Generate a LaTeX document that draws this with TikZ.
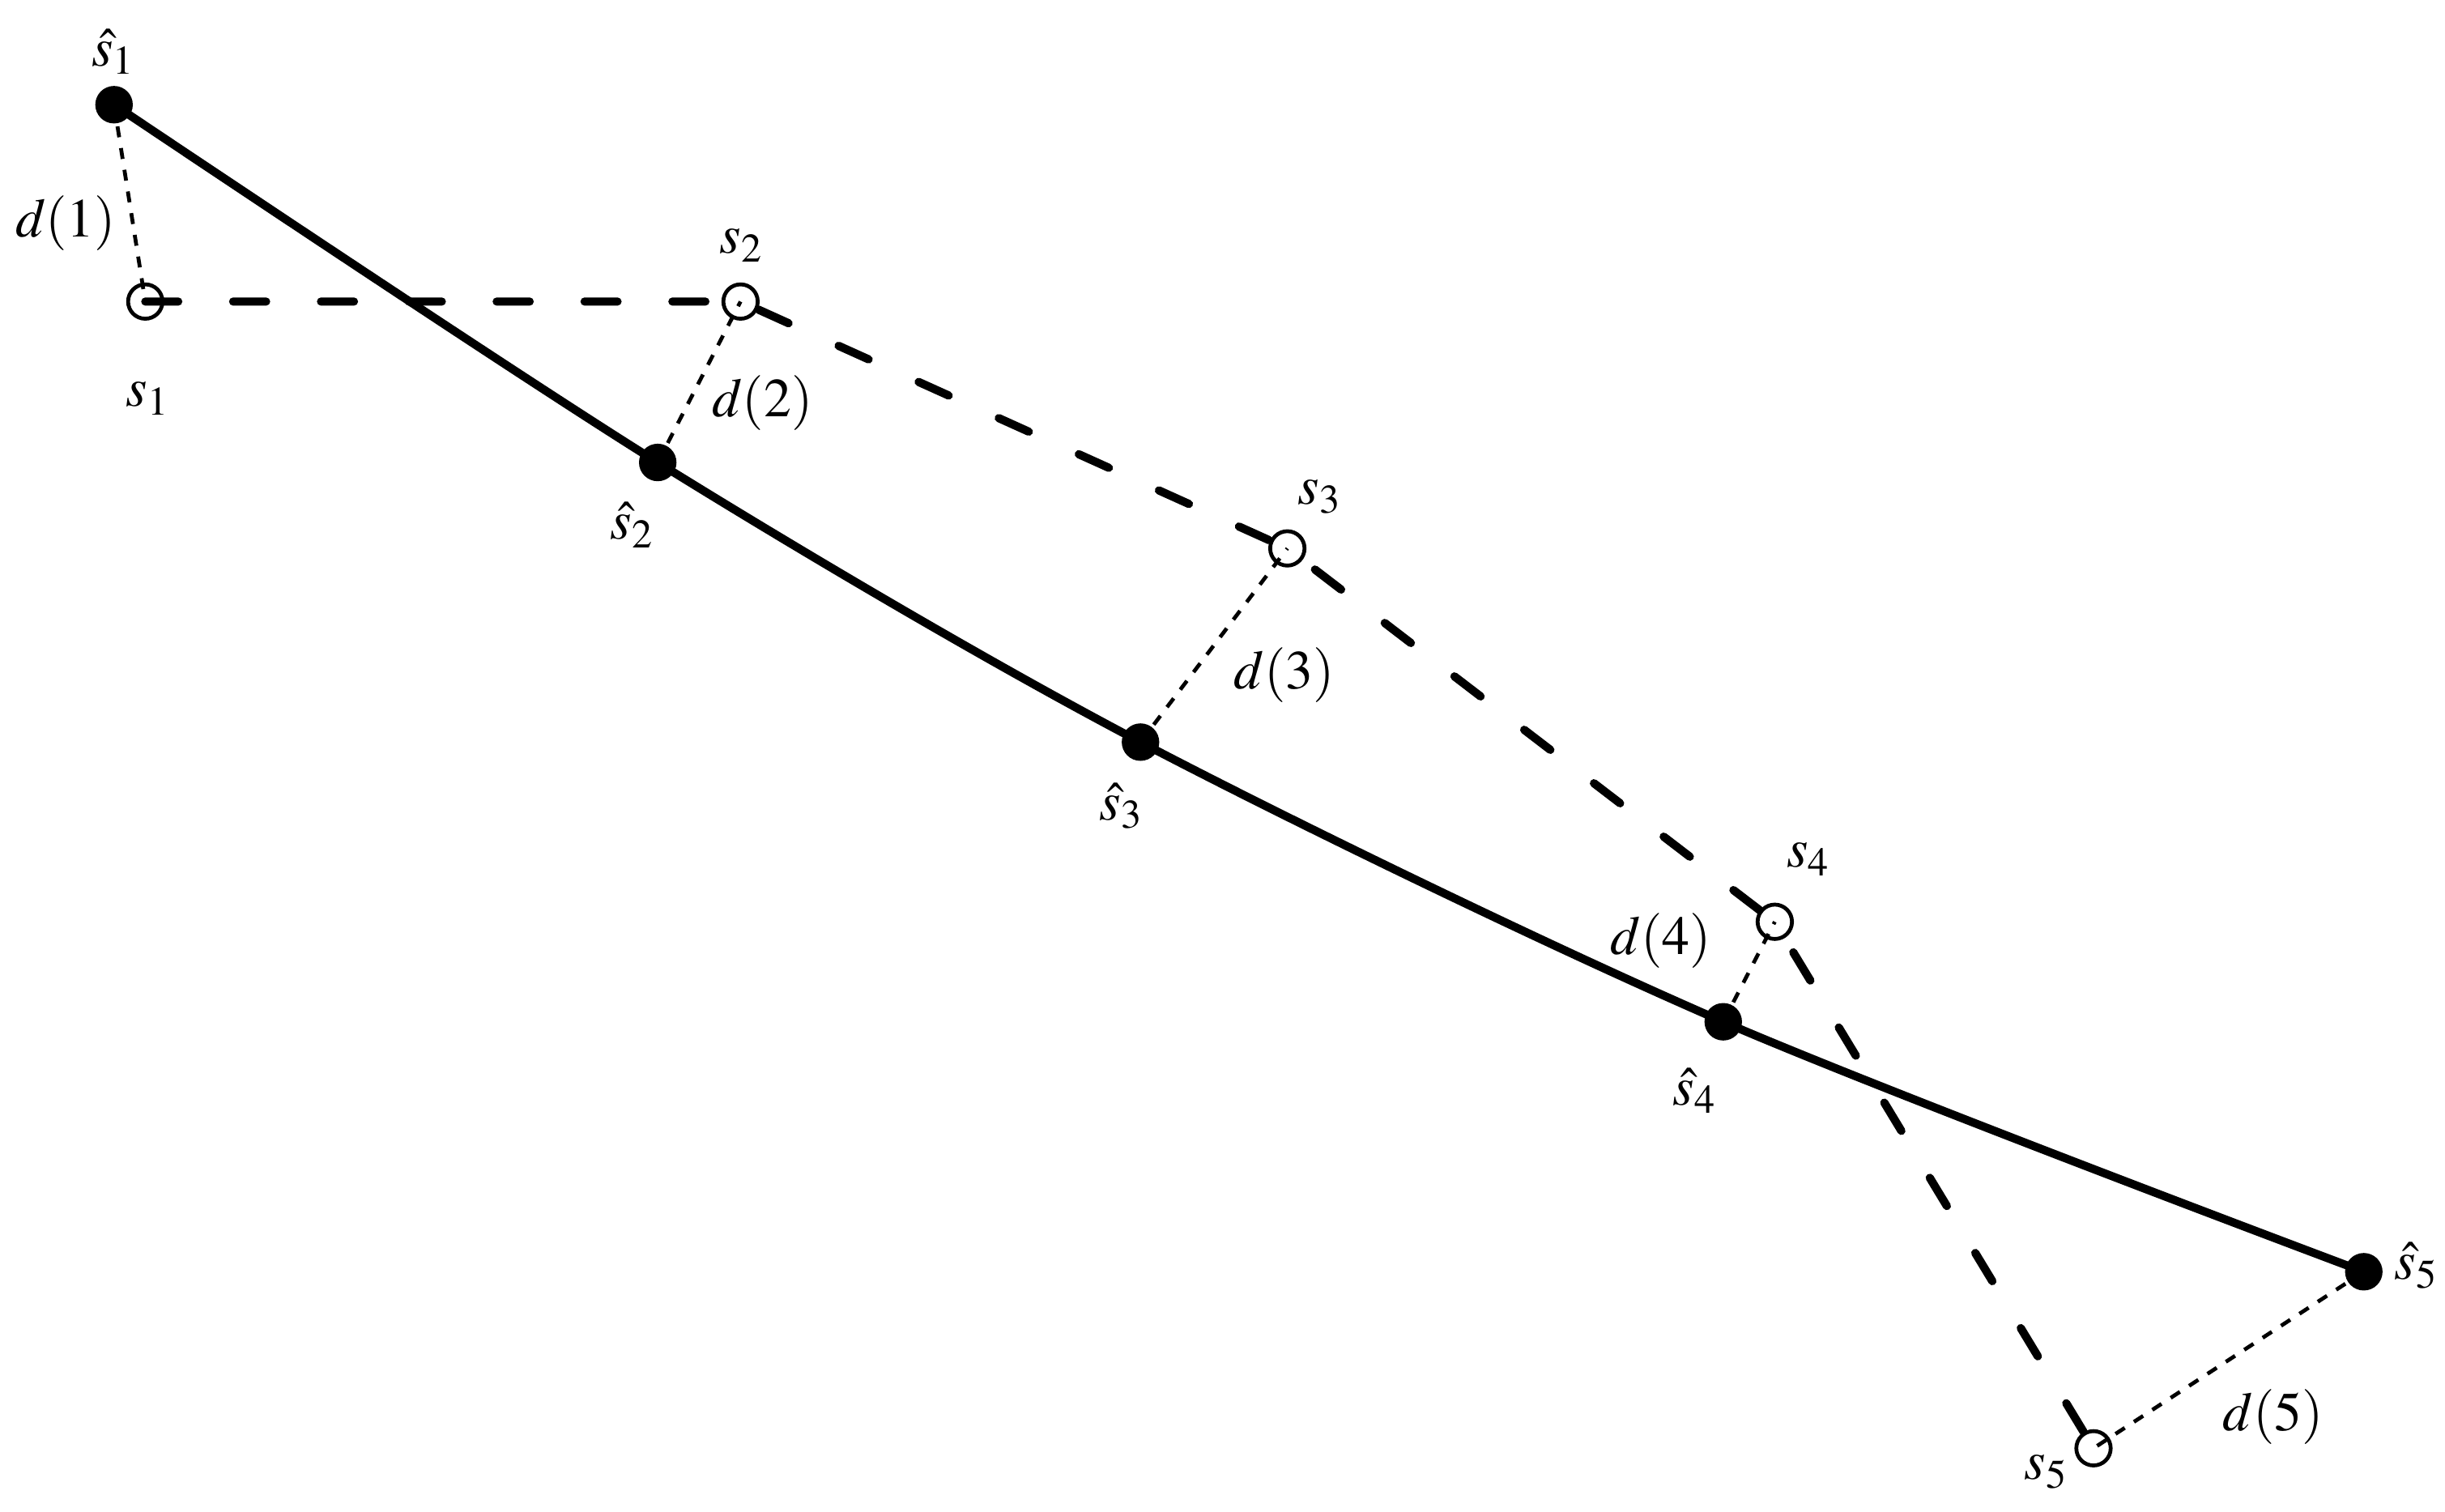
\documentclass[tikz,border=0pt]{standalone}
\usepackage{mathptmx}
\usepackage{tikz}

\begin{document}
\begin{tikzpicture}[
  obspt/.style={circle, draw, line width=0.7pt, inner sep=0pt, minimum size=0.22cm},
  estpt/.style={circle, fill, inner sep=0pt, minimum size=0.24cm},
  track/.style={line width=1.5pt},
  meas/.style={line width=1.5pt, line cap=round, dash pattern=on 6pt off 10pt},
  distline/.style={line width=0.7pt, dash pattern=on 2pt off 2pt}
]
\useasboundingbox (0,0) rectangle (15.65,-9.673);

% estimated points
\node [estpt] (h1) at (0.73,-0.67) {};
\node [estpt] (h2) at (4.21,-2.96) {};
\node [estpt] (h3) at (7.30,-4.75) {};
\node [estpt] (h4) at (11.03,-6.54) {};
\node [estpt] (h5) at (15.13,-8.14) {};

% measured points
\node [obspt] (s1) at (0.93,-1.93) {};
\node [obspt] (s2) at (4.74,-1.93) {};
\node [obspt] (s3) at (8.24,-3.51) {};
\node [obspt] (s4) at (11.36,-5.90) {};
\node [obspt] (s5) at (13.40,-9.27) {};

\draw [track] plot [smooth] coordinates {(h1.center) (h2.center) (h3.center) (h4.center) (h5.center)};
\draw [meas] (s1.center) -- (s2.center) -- (s3.center) -- (s4.center) -- (s5.center);

\draw [distline] (h1.center) -- (s1.center);
\draw [distline] (h2.center) -- (s2.center);
\draw [distline] (h3.center) -- (s3.center);
\draw [distline] (h4.center) -- (s4.center);
\draw [distline] (h5.center) -- (s5.center);

% labels
\node (lh1) at (0.73,-0.33) {$\hat{s}_1$};
\node (ls1) at (0.95,-2.55) {$s_1$};
\node (ld1) at (0.42,-1.43) {$d(1)$};

\node (ls2) at (4.75,-1.57) {$s_2$};
\node (lh2) at (4.05,-3.36) {$\hat{s}_2$};
\node (ld2) at (4.88,-2.58) {$d(2)$};

\node (ls3) at (8.45,-3.18) {$s_3$};
\node (lh3) at (7.18,-5.16) {$\hat{s}_3$};
\node (ld3) at (8.22,-4.32) {$d(3)$};

\node (ls4) at (11.58,-5.50) {$s_4$};
\node (lh4) at (10.85,-6.98) {$\hat{s}_4$};
\node (ld4) at (10.63,-6.02) {$d(4)$};

\node (lh5) at (15.47,-8.10) {$\hat{s}_5$};
\node (ls5) at (13.10,-9.42) {$s_5$};
\node (ld5) at (14.55,-9.07) {$d(5)$};

\end{tikzpicture}
\end{document}
